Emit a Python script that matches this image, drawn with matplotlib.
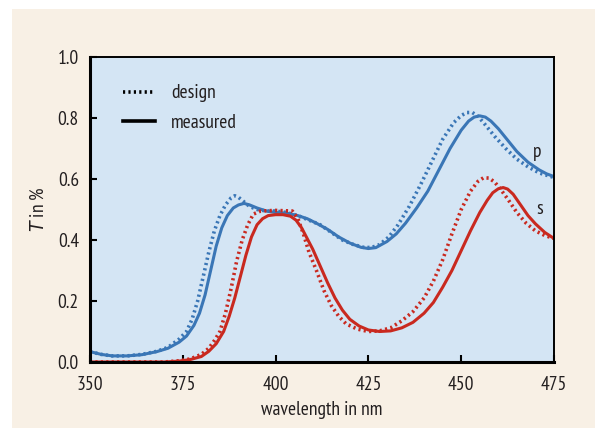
import matplotlib
matplotlib.use("Agg")
import matplotlib.pyplot as plt
from matplotlib.lines import Line2D
from matplotlib.patches import Rectangle

plt.rcParams['font.family'] = ['PT Sans Narrow', 'DejaVu Sans']
plt.rcParams['font.stretch'] = 'condensed'

# p polarisation, measured
p_meas_x = [350, 353, 356, 360, 364, 368, 371, 374, 376, 378, 379.5, 381, 382.5, 384, 385.5, 387,
            388.6, 390, 391.5, 393, 395, 397.5, 400, 403, 406, 408.5, 411, 414, 417, 420, 423, 425,
            427, 430, 432.5, 435, 438, 441, 444, 447, 450, 452, 453.5, 455, 456.5, 458, 460, 462,
            465, 468, 471, 473, 475]
p_meas_y = [0.034, 0.025, 0.020, 0.020, 0.024, 0.034, 0.045, 0.065, 0.085, 0.12, 0.16, 0.22, 0.30,
            0.38, 0.44, 0.48, 0.505, 0.515, 0.52, 0.515, 0.505, 0.495, 0.49, 0.488, 0.48, 0.47, 0.455,
            0.435, 0.41, 0.39, 0.376, 0.372, 0.375, 0.395, 0.42, 0.455, 0.505, 0.56, 0.63, 0.70, 0.76,
            0.79, 0.803, 0.807, 0.803, 0.79, 0.765, 0.735, 0.69, 0.655, 0.63, 0.617, 0.608]

# p polarisation, design
p_des_x = [350, 353, 356, 360, 364, 368, 371, 374, 376, 377.5, 379, 380.5, 382, 383.5, 385, 386.5,
           388, 389, 390, 391.5, 393, 395, 397.5, 400, 403, 406, 409, 412, 415, 418, 421, 424, 426,
           428, 430.5, 433, 436, 439, 442, 445, 448, 450, 451.5, 453, 454.5, 456, 459, 462, 465, 468,
           471, 475]
p_des_y = [0.034, 0.025, 0.020, 0.020, 0.025, 0.035, 0.048, 0.075, 0.10, 0.14, 0.20, 0.28, 0.36,
           0.43, 0.48, 0.515, 0.538, 0.545, 0.54, 0.525, 0.51, 0.50, 0.495, 0.495, 0.49, 0.48, 0.465,
           0.45, 0.425, 0.40, 0.385, 0.375, 0.376, 0.385, 0.41, 0.45, 0.51, 0.58, 0.655, 0.73, 0.785,
           0.808, 0.818, 0.818, 0.806, 0.785, 0.74, 0.70, 0.665, 0.64, 0.62, 0.605]

# s polarisation, measured
s_meas_x = [350, 370, 374, 377, 380, 382, 384, 386, 387.5, 389, 390.5, 392, 393.5, 395, 396.5, 398,
            400, 402, 404, 405.5, 407, 408.5, 410, 412, 414, 416, 418, 420, 422.5, 425, 428, 431, 434,
            437, 440, 442.5, 445, 447.5, 450, 452.5, 455, 457, 458.5, 460, 461.3, 462.5, 464, 466,
            468, 470, 472.5, 475]
s_meas_y = [0.0, 0.0, 0.003, 0.008, 0.018, 0.035, 0.06, 0.10, 0.15, 0.21, 0.28, 0.35, 0.41, 0.45,
            0.47, 0.48, 0.483, 0.483, 0.478, 0.465, 0.44, 0.405, 0.37, 0.315, 0.26, 0.21, 0.17, 0.14,
            0.118, 0.105, 0.10, 0.102, 0.112, 0.13, 0.16, 0.195, 0.245, 0.30, 0.365, 0.43, 0.49, 0.53,
            0.555, 0.568, 0.572, 0.567, 0.55, 0.515, 0.48, 0.453, 0.425, 0.405]

# s polarisation, design
s_des_x = [350, 370, 374, 377, 380, 382, 383.5, 385, 386.5, 388, 389.5, 391, 392.5, 394, 396, 400,
           404.5, 406, 407.5, 409, 411, 413, 415, 417, 419, 422, 425, 428, 431, 434, 437, 440, 442.5,
           445, 447.5, 450, 452.5, 454.5, 456, 457.5, 459, 460.5, 462.5, 465, 467.5, 470, 472.5, 475]
s_des_y = [0.0, 0.0, 0.004, 0.01, 0.025, 0.045, 0.07, 0.10, 0.16, 0.24, 0.33, 0.40, 0.45, 0.485,
           0.495, 0.497, 0.495, 0.47, 0.42, 0.36, 0.30, 0.235, 0.185, 0.15, 0.125, 0.108, 0.10, 0.102,
           0.112, 0.135, 0.165, 0.21, 0.265, 0.335, 0.42, 0.50, 0.56, 0.592, 0.604, 0.603, 0.59,
           0.568, 0.535, 0.49, 0.455, 0.43, 0.415, 0.405]

x_ticks = [350, 375, 400, 425, 450, 475]
y_ticks = [0.0, 0.2, 0.4, 0.6, 0.8, 1.0]

blue = '#3a76b6'
red = '#c9291f'
ink = '#231f20'
dots = (0, (0.6, 0.9))

fig = plt.figure(figsize=(5.97, 4.37), dpi=100, facecolor='white')
fig.add_artist(Rectangle((12 / 597, 9 / 437), 583 / 597, 419 / 437,
                         transform=fig.transFigure, facecolor='#f8f0e5',
                         edgecolor='none', zorder=-10))

ax = fig.add_axes([90 / 597, 75 / 437, 464 / 597, 305 / 437])
ax.set_facecolor('#d4e5f4')

ax.plot(p_des_x, p_des_y, color=blue, lw=2.6, ls=dots)
ax.plot(p_meas_x, p_meas_y, color=blue, lw=2.2)
ax.plot(s_des_x, s_des_y, color=red, lw=2.6, ls=dots)
ax.plot(s_meas_x, s_meas_y, color=red, lw=2.2)

ax.text(470.4, 0.69, 'p', fontsize=14, ha='center', va='center', color=ink)
ax.text(471.2, 0.50, 's', fontsize=14, ha='center', va='center', color=ink)

ax.set_xlim(350, 475)
ax.set_ylim(0, 1.0)
ax.set_xticks(x_ticks)
ax.set_yticks(y_ticks)
ax.set_yticklabels([f'{v:.1f}' for v in y_ticks])
ax.tick_params(direction='in', length=5, width=1.5, labelsize=14, labelcolor=ink)
ax.tick_params(axis='y', pad=8)
ax.tick_params(axis='x', pad=10)

for side in ['left', 'bottom']:
    ax.spines[side].set_linewidth(2.2)
for side in ['top', 'right']:
    ax.spines[side].set_linewidth(1.4)

ax.set_xlabel('wavelength in nm', fontsize=14, labelpad=5, color=ink)
ax.set_ylabel('$\\mathit{T}$ in %', fontsize=14, labelpad=7, color=ink)

handles = [Line2D([], [], color='black', lw=2.6, ls=dots),
           Line2D([], [], color='black', lw=2.6)]
leg = ax.legend(handles, ['design', 'measured'], loc='upper left', bbox_to_anchor=(0.072, 0.91),
                frameon=False, fontsize=14, handlelength=1.65, handletextpad=0.8,
                labelspacing=0.6, borderpad=0, borderaxespad=0)
for t in leg.get_texts():
    t.set_color(ink)

fig.savefig('out.png', dpi=100, facecolor='white')
